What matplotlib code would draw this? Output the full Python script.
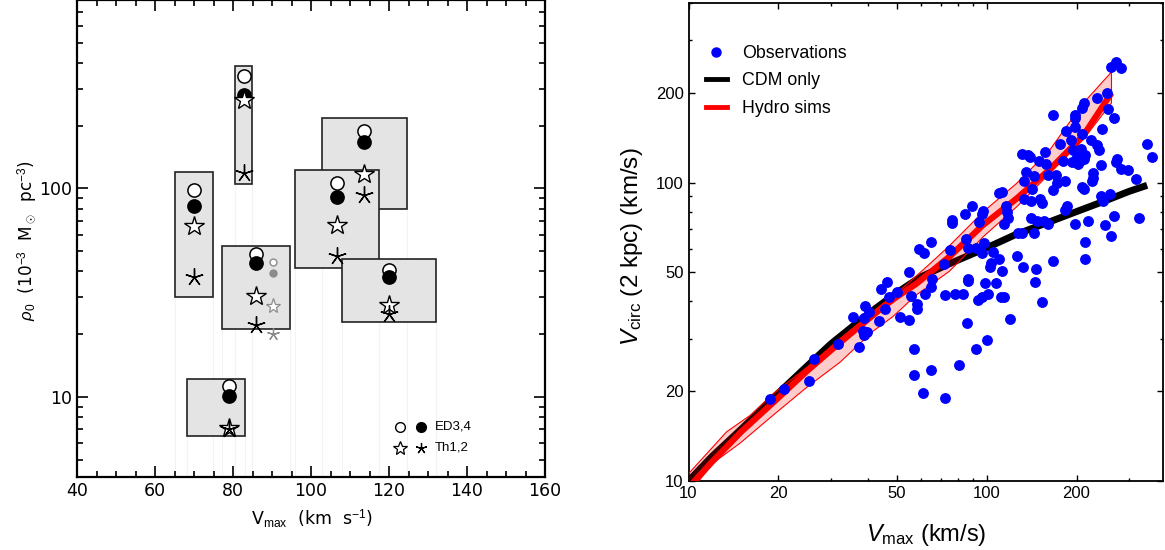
import numpy as np
import matplotlib
matplotlib.use("Agg")
import matplotlib.pyplot as plt
from matplotlib.lines import Line2D
from matplotlib.patches import Rectangle

# ---------------- Left panel data ----------------
box_vlo = [65.1, 80.4, 77.1, 102.7, 96.0, 108.0, 68.1]
box_vhi = [74.8, 84.8, 94.5, 124.7, 117.5, 132.1, 83.0]
box_rlo = [30.3, 105.4, 21.1, 79.9, 41.3, 23.0, 6.48]
box_rhi = [120.0, 386.0, 52.7, 218.0, 122.7, 46.1, 12.2]

mark_v = [70.0, 82.8, 86.0, 113.5, 106.7, 120.0, 79.1]
ed3 = [97.8, 346.0, 48.5, 189.0, 106.0, 40.4, 11.25]   # open circles
ed4 = [82.2, 280.0, 43.8, 166.5, 91.0, 37.8, 10.08]    # filled circles
th1 = [66.1, 265.0, 30.4, 117.4, 67.0, 27.5, 7.08]     # open stars
th2 = [37.5, 118.0, 22.2, 93.3, 47.6, 25.0, 7.05]      # asterisks

grey_v = [90.2]
grey_ed3 = [44.2]
grey_ed4 = [39.2]
grey_th1 = [27.3]
grey_th2 = [20.1]

# ---------------- Right panel data ----------------
obs_vmax = [18.8, 20.96, 25.4, 26.3, 31.8, 35.5, 37.3, 39.1, 38.9, 38.5, 39.7, 38.9, 40.3,
            43.5, 44.2, 46.3, 46.9, 45.7, 50.0, 54.8, 51.0, 54.8, 55.9, 57.0, 57.0, 58.2,
            58.2, 59.5, 61.5, 61.9, 61.0, 64.8, 64.9, 65.5, 64.8, 71.7, 72.3, 72.7, 75.6,
            76.5, 76.7, 78.1, 80.5, 83.1, 85.7, 84.6, 84.9, 86.5, 86.5, 86.5, 89.4, 91.8,
            91.8, 93.2, 94.4, 96.3, 97.1, 97.7, 96.3, 96.3, 98.5, 100.0, 101.0, 102.7, 103.6,
            104.8, 107.1, 110.0, 110.0, 112.5, 111.8, 114.0, 112.3, 114.0, 116.0, 117.0, 117.4,
            119.6, 126.5, 127.5, 131.2, 131.8, 133.8, 133.8, 135.0, 132.5, 137.8, 139.8, 140.8,
            140.8, 141.6, 143.5, 144.0, 145.4, 146.5, 147.0, 149.7, 150.8, 153.5, 153.5, 156.7,
            155.9, 161.0, 161.0, 158.5, 167.0, 167.0, 167.0, 171.0, 172.3, 175.6, 180.0, 183.0,
            184.5, 183.0, 185.5, 192.0, 193.0, 194.5, 197.0, 198.0, 198.0, 198.0, 201.0, 203.0,
            206.0, 208.6, 211.5, 208.6, 207.0, 211.5, 214.3, 212.5, 208.6, 214.3, 214.3, 218.5,
            223.0, 227.0, 225.6, 228.0, 235.0, 235.0, 238.0, 242.0, 244.0, 245.0, 242.0, 249.5,
            252.5, 256.0, 259.0, 261.5, 262.0, 267.5, 271.4, 274.0, 271.4, 267.5, 282.0, 282.0,
            297.0, 316.0, 323.0, 346.0, 358.0]
obs_vcirc = [18.8, 20.4, 21.7, 25.7, 28.9, 35.5, 28.2, 38.6, 35.3, 31.8, 31.6, 30.8, 36.8,
             34.4, 44.0, 46.4, 41.5, 37.6, 43.0, 50.2, 35.5, 34.6, 41.8, 27.8, 22.7, 39.3,
             37.6, 59.8, 57.9, 42.4, 19.7, 63.1, 44.8, 47.4, 23.6, 53.2, 42.0, 19.0, 59.6,
             73.4, 75.2, 42.4, 24.4, 42.4, 33.9, 78.7, 64.6, 60.6, 47.6, 46.8, 83.4, 60.6,
             27.6, 40.5, 73.9, 78.4, 80.3, 62.9, 58.1, 41.3, 46.0, 29.6, 42.2, 52.2, 53.6,
             58.4, 46.0, 55.4, 92.3, 93.3, 41.3, 41.3, 50.4, 72.7, 83.4, 79.8, 76.4,
             34.8, 56.9, 67.6, 68.0, 125.2, 101.0, 88.2, 108.8, 52.2, 123.5, 121.7, 87.1,
             76.4, 95.3, 104.9, 67.6, 46.4, 51.3, 74.5, 118.6, 88.2, 85.8, 39.7, 126.8,
             74.5, 106.3, 72.7, 115.7, 169.0, 94.2, 54.7, 106.3, 99.7, 135.0, 118.6, 101.0,
             148.8, 81.0, 83.4, 138.7, 117.2, 128.4, 153.9, 164.6, 169.0, 72.7, 121.7, 115.7,
             118.6, 178.5, 185.6, 145.5, 130.2, 120.0, 123.5, 95.3, 96.4, 55.4, 63.2, 74.5,
             138.7, 107.5, 101.0, 103.4, 192.0, 134.0, 128.4, 114.4, 151.8, 87.1, 90.2, 71.9,
             199.3, 176.6, 91.3, 66.4, 244.5, 164.6, 117.2, 120.0, 254.0, 77.5, 111.0, 241.6,
             110.0, 103.0, 76.3, 135.0, 121.7]

cdm_vmax = [10, 12, 15, 20, 25, 30, 40, 50, 60, 75, 100, 125, 160, 200, 250, 300, 345]
cdm_vcirc = [10, 12.1, 14.9, 19.7, 24.3, 28.8, 36.3, 42.8, 48.3, 53.5, 60.5, 67, 73.5, 80, 87, 93.5, 98]

hyd_vmax = [10, 12, 15, 20, 25, 30, 35, 45, 50, 58, 75, 97, 126, 163, 211, 262]
hyd_vcirc = [9.5, 11.6, 14.6, 19.0, 23.4, 27.4, 31.2, 38.4, 41.5, 45.8, 56.5, 72.0, 88.5, 111, 144, 200]

band_up_vmax = [9.5, 12.4, 13.4, 16.1, 19.2, 24.9, 32.2, 41.6, 53.8, 64.5, 75, 97.5, 126, 162, 210, 262]
band_up_vcirc = [10.0, 13.4, 14.6, 16.6, 19.6, 24.0, 30.0, 37.0, 45.5, 53.5, 61.5, 80, 99.5, 128, 184, 235]
band_lo_vmax = [10.3, 12.1, 14.9, 19.2, 24.9, 32.2, 41.6, 48.5, 58, 75, 97.5, 126, 162, 210, 262]
band_lo_vcirc = [9.4, 11.5, 13.4, 16.6, 20.6, 25.0, 31.8, 35.6, 42.0, 50.5, 66, 83, 107, 139, 185]

# ---------------- Style ----------------
plt.rcParams['font.family'] = ['Liberation Sans', 'DejaVu Sans']
plt.rcParams['mathtext.fontset'] = 'custom'
plt.rcParams['mathtext.rm'] = 'Liberation Sans'
plt.rcParams['mathtext.it'] = 'Liberation Sans:italic'

fig = plt.figure(figsize=(11.65, 5.5), dpi=100)
W, H = 1165.0, 550.0

# ---------------- Left panel ----------------
axL = fig.add_axes([77 / W, 1 - 477.3 / H, 468 / W, 477.3 / H])
axL.set_yscale('log')
axL.set_xlim(40, 160)
axL.set_ylim(4.12, 800)

for vlo, vhi, rlo in zip(box_vlo, box_vhi, box_rlo):
    axL.plot([vlo, vlo], [4.12, rlo], color='#f3f3f3', lw=0.8, zorder=1)
    axL.plot([vhi, vhi], [4.12, rlo], color='#f3f3f3', lw=0.8, zorder=1)

for i in range(len(box_vlo)):
    r = Rectangle((box_vlo[i], box_rlo[i]), box_vhi[i] - box_vlo[i], box_rhi[i] - box_rlo[i],
                  facecolor='#e4e4e4', edgecolor='#222222', lw=1.2, zorder=2)
    axL.add_patch(r)

ast = (5, 2, 0)
axL.plot(mark_v, ed3, ls='none', marker='o', ms=9.5, mfc='white', mec='black', mew=1.1, zorder=5)
axL.plot(mark_v, ed4, ls='none', marker='o', ms=9.5, mfc='black', mec='black', mew=1.1, zorder=6)
axL.plot(mark_v, th1, ls='none', marker='*', ms=15, mfc='white', mec='black', mew=1.0, zorder=7)
axL.plot(mark_v, th2, ls='none', marker=ast, ms=13, mfc='black', mec='black', mew=1.0, zorder=8)

g = '#8c8c8c'
axL.plot(grey_v, grey_ed3, ls='none', marker='o', ms=5, mfc='white', mec=g, mew=1.0, zorder=5)
axL.plot(grey_v, grey_ed4, ls='none', marker='o', ms=5, mfc=g, mec=g, mew=1.0, zorder=6)
axL.plot(grey_v, grey_th1, ls='none', marker='*', ms=11, mfc='white', mec=g, mew=0.9, zorder=7)
axL.plot(grey_v, grey_th2, ls='none', marker=ast, ms=9, mfc=g, mec=g, mew=0.9, zorder=8)

# legend in left panel
axL.plot([0.690], [0.1054], transform=axL.transAxes, marker='o', ms=7, mfc='white', mec='black', mew=1.0, ls='none', clip_on=False)
axL.plot([0.735], [0.1054], transform=axL.transAxes, marker='o', ms=7, mfc='black', mec='black', mew=1.0, ls='none', clip_on=False)
axL.text(0.765, 0.1054, 'ED3,4', transform=axL.transAxes, fontsize=9.5, va='center', ha='left')
axL.plot([0.690], [0.0614], transform=axL.transAxes, marker='*', ms=10, mfc='white', mec='black', mew=0.9, ls='none', clip_on=False)
axL.plot([0.735], [0.0614], transform=axL.transAxes, marker=ast, ms=8, mfc='black', mec='black', mew=0.9, ls='none', clip_on=False)
axL.text(0.765, 0.0614, 'Th1,2', transform=axL.transAxes, fontsize=9.5, va='center', ha='left')

axL.set_xticks([40, 60, 80, 100, 120, 140, 160])
axL.xaxis.set_minor_locator(matplotlib.ticker.MultipleLocator(5))
axL.set_yticks([10, 100])
axL.set_yticklabels(['10', '100'])
axL.yaxis.set_minor_formatter(matplotlib.ticker.NullFormatter())
axL.tick_params(which='both', direction='in', top=True, right=True, width=1.2, labelsize=12.5,
                labelfontfamily='DejaVu Sans')
axL.tick_params(which='major', length=8.0)
axL.tick_params(which='minor', length=4.2)
for s in axL.spines.values():
    s.set_linewidth(1.6)

axL.set_xlabel(r'V$_{\rm max}$  (km  s$^{-1}$)', fontsize=12.5, family='DejaVu Sans')
axL.set_ylabel(r'$\rho_0$  (10$^{-3}$  M$_\odot$  pc$^{-3}$)', fontsize=12.2, family='DejaVu Sans')
axL.xaxis.set_label_coords(0.502, -0.064)
axL.yaxis.set_label_coords(-0.082, 0.495)

# ---------------- Right panel ----------------
axR = fig.add_axes([688.5 / W, 1 - 481 / H, (1163 - 688.5) / W, (481 - 3.1) / H])
axR.set_xscale('log')
axR.set_yscale('log')
axR.set_xlim(10, 390)
axR.set_ylim(10, 400)

band_v = list(band_up_vmax) + list(band_lo_vmax[::-1])
band_c = list(band_up_vcirc) + list(band_lo_vcirc[::-1])
axR.plot(cdm_vmax, cdm_vcirc, color='black', lw=5, solid_capstyle='butt', zorder=2)
axR.fill(band_v, band_c, facecolor=(1.0, 0.0, 0.0, 0.2), edgecolor='red', lw=0.8, zorder=3)
axR.plot(hyd_vmax, hyd_vcirc, color='red', lw=4.5, solid_capstyle='butt', zorder=4)
axR.plot(obs_vmax, obs_vcirc, ls='none', marker='o', ms=6.8, color='#0000ff', mec='#0000ff', zorder=5)

handles = [Line2D([], [], ls='none', marker='o', ms=6.5, color='#0000ff'),
           Line2D([], [], color='black', lw=3.5),
           Line2D([], [], color='red', lw=3.5)]
axR.legend(handles, ['Observations', 'CDM only', 'Hydro sims'], loc='upper left',
           bbox_to_anchor=(0.0, 0.95), frameon=False, fontsize=12.8, handlelength=1.15,
           handletextpad=0.85, labelspacing=0.6, borderaxespad=0.6)

axR.set_xticks([10, 20, 50, 100, 200])
axR.set_xticklabels(['10', '20', '50', '100', '200'])
axR.set_yticks([10, 20, 50, 100, 200])
axR.set_yticklabels(['10', '20', '50', '100', '200'])
axR.xaxis.set_minor_formatter(matplotlib.ticker.NullFormatter())
axR.yaxis.set_minor_formatter(matplotlib.ticker.NullFormatter())
axR.tick_params(which='both', direction='in', top=True, right=True, width=1.0, labelsize=12)
axR.tick_params(which='major', length=4.5)
axR.tick_params(which='minor', length=2.5)
for s in axR.spines.values():
    s.set_linewidth(1.3)

axR.set_xlabel(r'$V_{\rm max}$ (km/s)', fontsize=17)
axR.set_ylabel(r'$V_{\rm circ}$ (2 kpc) (km/s)', fontsize=17.5)
axR.xaxis.set_label_coords(0.5, -0.086)
axR.yaxis.set_label_coords(-0.092, 0.49)

fig.savefig('out.png', dpi=100)
